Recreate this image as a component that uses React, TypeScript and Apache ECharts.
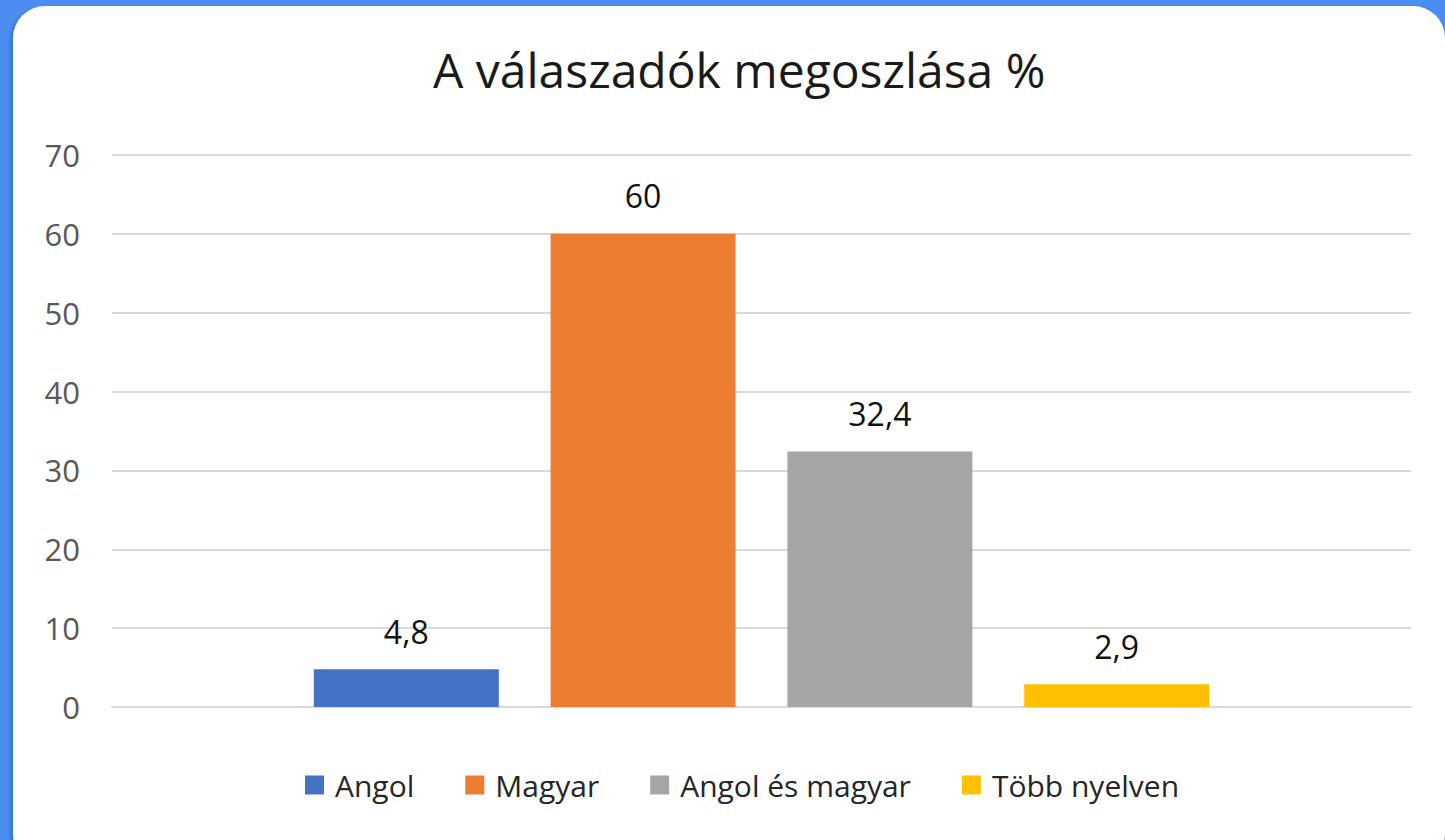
import React, { useEffect, useRef } from "react";
import * as echarts from "echarts";

const title = "A válaszadók megoszlása %";
const categories = [""];
const seriesNames = ["Angol", "Magyar", "Angol és magyar", "Több nyelven"];
const seriesValues = [4.8, 60, 32.4, 2.9];
const seriesColors = ["#4472C4", "#ED7D31", "#A5A5A5", "#FFC000"];
const yTicks = { min: 0, max: 70, interval: 10 };

export default function App() {
  const ref = useRef<HTMLDivElement>(null);
  useEffect(() => {
    if (!ref.current) return;
    const chart = echarts.init(ref.current, null, { renderer: "svg" });
    const font = "Open Sans, sans-serif";
    chart.setOption({
      animation: false,
      title: {
        text: title,
        left: 428,
        top: 40,
        textStyle: { fontFamily: font, fontSize: 48, fontWeight: "normal", color: "#1a1a1a" },
      },
      legend: {
        bottom: 35,
        left: 300,
        icon: "rect",
        itemWidth: 19,
        itemHeight: 19,
        itemGap: 51,
        textStyle: { fontFamily: font, fontSize: 30, color: "#262626", padding: [0, 0, 0, 6] },
        data: seriesNames,
      },
      grid: { left: 112, right: 34, top: 155, bottom: 133 },
      xAxis: {
        type: "category",
        data: categories,
        axisLine: { show: true, lineStyle: { color: "#d9d9d9", width: 2 } },
        axisTick: { show: false },
        axisLabel: { show: false },
      },
      yAxis: {
        type: "value",
        min: yTicks.min,
        max: yTicks.max,
        interval: yTicks.interval,
        axisLine: { show: false },
        axisTick: { show: false },
        axisLabel: { fontFamily: font, fontSize: 31, color: "#595959", margin: 32 },
        splitLine: { lineStyle: { color: "#d9d9d9", width: 2 } },
      },
      series: seriesNames.map((name, i) => ({
        name,
        type: "bar",
        data: [seriesValues[i]],
        barWidth: 185,
        barGap: "28%",
        itemStyle: { color: seriesColors[i] },
        label: {
          show: true,
          position: "top",
          distance: 22,
          fontFamily: font,
          fontSize: 32,
          color: "#111111",
          formatter: (p: any) => String(p.value).replace(".", ","),
        },
      })),
    });
    return () => chart.dispose();
  }, []);
  return (
    <div style={{ position: "fixed", left: 0, top: 0, width: 1445, height: 840, background: "#4a8cf0", overflow: "hidden" }}>
      <div
        style={{
          position: "absolute",
          left: 13,
          top: 6,
          width: 1432,
          height: 860,
          background: "#ffffff",
          borderRadius: 32,
          boxShadow: "-3px 2px 3px rgba(0,0,0,0.15)",
        }}
      />
      <div ref={ref} style={{ position: "absolute", left: 0, top: 0, width: 1445, height: 840 }} />
    </div>
  );
}
